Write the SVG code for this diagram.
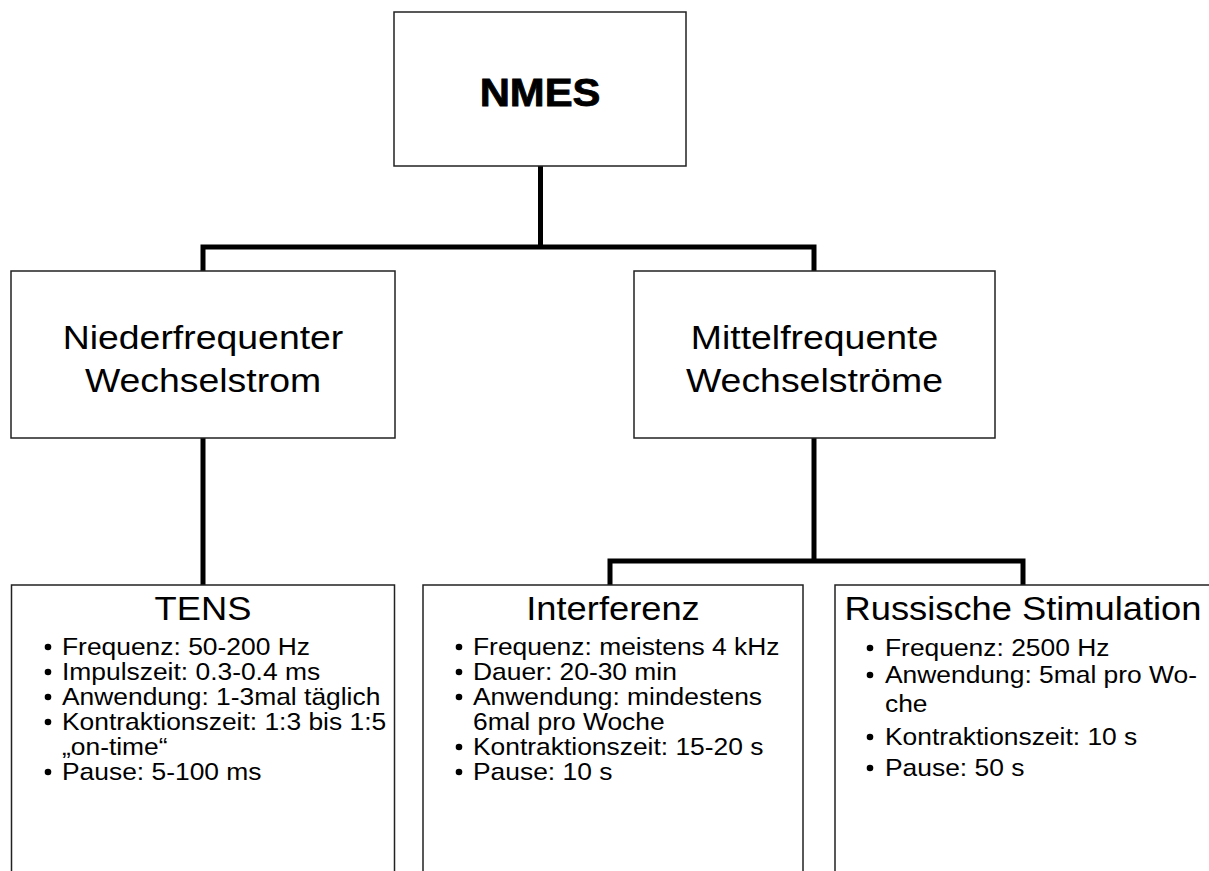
<svg xmlns="http://www.w3.org/2000/svg" width="1209" height="871" viewBox="0 0 1209 871">
<style>
.box{fill:#fff;stroke:#222;stroke-width:1.5}
.conn{fill:none;stroke:#000;stroke-width:5;stroke-linejoin:miter;stroke-linecap:butt}
text{font-family:"Liberation Sans",Arial,sans-serif;fill:#000}
.top{font-size:38px;font-weight:bold;stroke:#000;stroke-width:0.8}
.mid{font-size:34px}
.ttl{font-size:33px}
.item{font-size:24px}
.dot{fill:#000}
</style>
<rect width="1209" height="871" fill="#fff"/>
<g id="connectors">
<path class="conn" d="M540.5,166 V247"/>
<path class="conn" d="M203,271 V247 H814 V271"/>
<path class="conn" d="M203,438 V585"/>
<path class="conn" d="M814,438 V561"/>
<path class="conn" d="M610,585 V561 H1023 V585"/>
</g>
<g id="nmes">
<rect class="box" x="394" y="12" width="292" height="154"/>
<text class="top" text-anchor="middle" transform="translate(540,106) scale(1.1,1)">NMES</text>
</g>
<g id="nieder">
<rect class="box" x="11" y="271" width="384" height="167"/>
<text class="mid" text-anchor="middle" transform="translate(203,349) scale(1.1,1)">Niederfrequenter</text>
<text class="mid" text-anchor="middle" transform="translate(203,392) scale(1.1,1)">Wechselstrom</text>
</g>
<g id="mittel">
<rect class="box" x="634" y="271" width="361" height="167"/>
<text class="mid" text-anchor="middle" transform="translate(814.5,349) scale(1.1,1)">Mittelfrequente</text>
<text class="mid" text-anchor="middle" transform="translate(814.5,392) scale(1.1,1)">Wechselströme</text>
</g>
<g id="tens">
<rect class="box" x="11.5" y="585" width="383" height="320"/>
<text class="ttl" text-anchor="middle" transform="translate(203,620) scale(1.1,1)">TENS</text>
<circle class="dot" cx="48" cy="647" r="3.3"/>
<text class="item" transform="translate(62,655) scale(1.1,1)">Frequenz: 50-200 Hz</text>
<circle class="dot" cx="48" cy="672" r="3.3"/>
<text class="item" transform="translate(62,680) scale(1.1,1)">Impulszeit: 0.3-0.4 ms</text>
<circle class="dot" cx="48" cy="697" r="3.3"/>
<text class="item" transform="translate(62,705) scale(1.1,1)">Anwendung: 1-3mal täglich</text>
<circle class="dot" cx="48" cy="722" r="3.3"/>
<text class="item" transform="translate(62,730) scale(1.1,1)">Kontraktionszeit: 1:3 bis 1:5</text>
<text class="item" transform="translate(62,755) scale(1.1,1)">„on-time“</text>
<circle class="dot" cx="48" cy="772" r="3.3"/>
<text class="item" transform="translate(62,780) scale(1.1,1)">Pause: 5-100 ms</text>
</g>
<g id="interferenz">
<rect class="box" x="423" y="585" width="380" height="320"/>
<text class="ttl" text-anchor="middle" transform="translate(613,620) scale(1.1,1)">Interferenz</text>
<circle class="dot" cx="459" cy="647" r="3.3"/>
<text class="item" transform="translate(473,655) scale(1.1,1)">Frequenz: meistens 4 kHz</text>
<circle class="dot" cx="459" cy="672" r="3.3"/>
<text class="item" transform="translate(473,680) scale(1.1,1)">Dauer: 20-30 min</text>
<circle class="dot" cx="459" cy="697" r="3.3"/>
<text class="item" transform="translate(473,705) scale(1.1,1)">Anwendung: mindestens</text>
<text class="item" transform="translate(473,730) scale(1.1,1)">6mal pro Woche</text>
<circle class="dot" cx="459" cy="747" r="3.3"/>
<text class="item" transform="translate(473,755) scale(1.1,1)">Kontraktionszeit: 15-20 s</text>
<circle class="dot" cx="459" cy="772" r="3.3"/>
<text class="item" transform="translate(473,780) scale(1.1,1)">Pause: 10 s</text>
</g>
<g id="russische">
<rect class="box" x="835" y="585" width="380" height="320"/>
<text class="ttl" text-anchor="middle" transform="translate(1023,620) scale(1.1,1)">Russische Stimulation</text>
<circle class="dot" cx="870" cy="648" r="3.3"/>
<text class="item" transform="translate(885,656) scale(1.1,1)">Frequenz: 2500 Hz</text>
<circle class="dot" cx="870" cy="675" r="3.3"/>
<text class="item" transform="translate(885,683) scale(1.1,1)">Anwendung: 5mal pro Wo-</text>
<text class="item" transform="translate(885,712) scale(1.1,1)">che</text>
<circle class="dot" cx="870" cy="737" r="3.3"/>
<text class="item" transform="translate(885,745) scale(1.1,1)">Kontraktionszeit: 10 s</text>
<circle class="dot" cx="870" cy="768" r="3.3"/>
<text class="item" transform="translate(885,776) scale(1.1,1)">Pause: 50 s</text>
</g>
</svg>
